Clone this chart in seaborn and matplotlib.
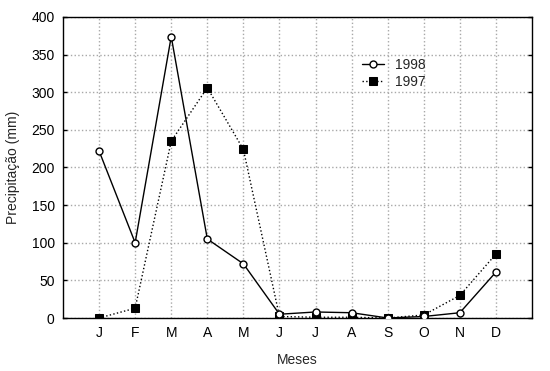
import numpy as np
import pandas as pd
import matplotlib
matplotlib.use('Agg')
import matplotlib.pyplot as plt
import seaborn as sns

# DADOS
meses = ['J', 'F', 'M', 'A', 'M', 'J', 'J', 'A', 'S', 'O', 'N', 'D']
chuva_1998 = [222, 100, 374, 105, 72, 5, 8, 7, 0, 2, 7, 61]
chuva_1997 = [0, 13, 235, 306, 224, 2, 1, 1, 0, 4, 30, 85]
y_ticks = [0, 50, 100, 150, 200, 250, 300, 350, 400]

sns.set_style('white')
plt.rcParams['font.family'] = ['Liberation Sans', 'DejaVu Sans']

pos = np.arange(1, len(meses) + 1)
df = pd.DataFrame({'pos': pos, '1998': chuva_1998, '1997': chuva_1997})

fig = plt.figure(figsize=(5.5, 3.71), dpi=100)
ax = fig.add_axes([63 / 550, 1 - 318 / 371, (532 - 63) / 550, (318 - 17) / 371])

sns.lineplot(data=df, x='pos', y='1998', ax=ax, color='black', linewidth=1,
             marker='o', markersize=5, markerfacecolor='white',
             markeredgecolor='black', markeredgewidth=1, label='1998', zorder=4)
sns.lineplot(data=df, x='pos', y='1997', ax=ax, color='black', linewidth=1,
             linestyle=':', marker='s', markersize=5.5, markerfacecolor='black',
             markeredgecolor='black', label='1997', zorder=3)

ax.set_xlim(0, 13)
ax.set_ylim(0, 400)
ax.set_xticks(pos)
ax.set_xticklabels(meses)
ax.set_yticks(y_ticks)

ax.grid(True, color='#a8a8a8', linestyle=':', linewidth=1, zorder=0)
ax.set_axisbelow(True)

ax.tick_params(axis='both', labelsize=10, colors='black', length=0, pad=6)
ax.tick_params(axis='y', left=True, right=True, direction='in', length=3, width=1)

for s in ax.spines.values():
    s.set_visible(True)
    s.set_color('black')
    s.set_linewidth(1)

ax.set_xlabel('Meses', fontsize=10, labelpad=9)
ax.set_ylabel('Precipitação (mm)', fontsize=10, labelpad=8)

ax.legend(loc='upper left', bbox_to_anchor=(0.617, 0.895), frameon=False,
          fontsize=10, handlelength=1.6, handletextpad=0.8, labelspacing=0.2,
          borderpad=0.2)

plt.savefig('out.png', dpi=100)
